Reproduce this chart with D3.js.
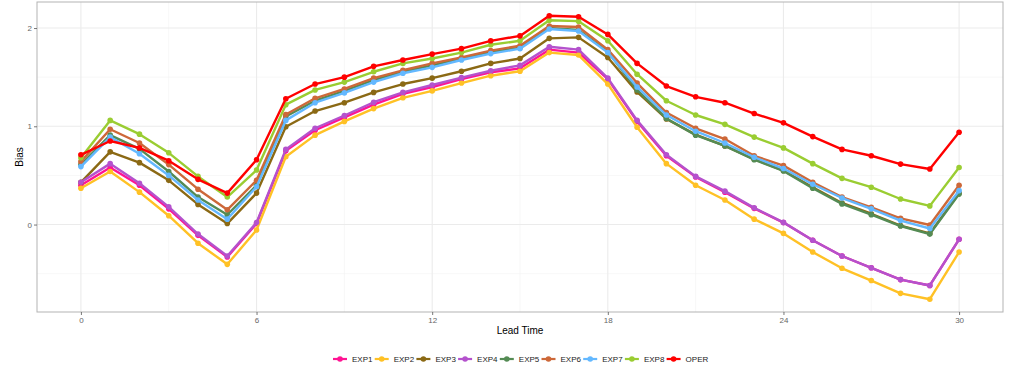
<!DOCTYPE html>
<html lang="en">
<head>
<meta charset="utf-8">
<script src="https://d3js.org/d3.v7.min.js"></script>
<style>
  body { margin: 0; background: #fff; }
  svg text { font-family: "Liberation Sans", Arial, sans-serif; }
</style>
</head>
<body>
<script>
// lead times 0..30
let leadTime = d3.range(0, 31);
let seriesNames = ["EXP1", "EXP2", "EXP3", "EXP4", "EXP5", "EXP6", "EXP7", "EXP8", "OPER"];
let seriesColors = ["#FF1493", "#FFC125", "#8B6914", "#B452CD", "#548B54", "#CD6839", "#63B8FF", "#9ACD32", "#FF0000"];

let exp1 = [0.40, 0.58, 0.40, 0.16, -0.11, -0.33, 0.01, 0.75, 0.96, 1.09, 1.22, 1.33, 1.40, 1.48, 1.55, 1.59, 1.78, 1.75, 1.48, 1.05, 0.70, 0.485, 0.33, 0.165, 0.02, -0.16, -0.32, -0.44, -0.56, -0.62, -0.15];
let exp2 = [0.37, 0.54, 0.33, 0.09, -0.19, -0.405, -0.056, 0.69, 0.91, 1.05, 1.18, 1.29, 1.36, 1.44, 1.515, 1.56, 1.75, 1.725, 1.43, 0.99, 0.62, 0.40, 0.25, 0.055, -0.09, -0.28, -0.445, -0.57, -0.70, -0.76, -0.28];
let exp3 = [0.43, 0.74, 0.63, 0.45, 0.205, 0.01, 0.32, 0.995, 1.155, 1.24, 1.345, 1.43, 1.49, 1.56, 1.64, 1.69, 1.895, 1.905, 1.70, 1.35, 1.075, 0.915, 0.80, 0.665, 0.55, 0.38, 0.22, 0.11, -0.01, -0.09, 0.32];
let exp4 = [0.43, 0.62, 0.42, 0.18, -0.097, -0.32, 0.02, 0.765, 0.98, 1.11, 1.245, 1.345, 1.42, 1.495, 1.565, 1.62, 1.81, 1.78, 1.49, 1.06, 0.71, 0.49, 0.34, 0.17, 0.022, -0.16, -0.32, -0.44, -0.56, -0.62, -0.15];
let exp5 = [0.61, 0.91, 0.77, 0.54, 0.28, 0.10, 0.40, 1.10, 1.26, 1.36, 1.47, 1.555, 1.62, 1.69, 1.755, 1.80, 2.00, 1.98, 1.76, 1.37, 1.08, 0.91, 0.80, 0.66, 0.545, 0.37, 0.21, 0.10, -0.015, -0.097, 0.31];
let exp6 = [0.64, 0.97, 0.83, 0.61, 0.36, 0.15, 0.45, 1.12, 1.285, 1.38, 1.49, 1.57, 1.64, 1.70, 1.77, 1.82, 2.02, 2.01, 1.78, 1.44, 1.14, 0.98, 0.87, 0.70, 0.60, 0.43, 0.28, 0.175, 0.063, -0.005, 0.40];
let exp7 = [0.59, 0.89, 0.72, 0.50, 0.25, 0.055, 0.385, 1.06, 1.24, 1.34, 1.45, 1.54, 1.60, 1.675, 1.74, 1.79, 1.99, 1.97, 1.75, 1.40, 1.115, 0.95, 0.83, 0.685, 0.57, 0.41, 0.27, 0.16, 0.04, -0.04, 0.345];
let exp8 = [0.68, 1.06, 0.92, 0.73, 0.49, 0.28, 0.555, 1.22, 1.37, 1.45, 1.555, 1.64, 1.69, 1.75, 1.83, 1.87, 2.08, 2.07, 1.87, 1.53, 1.26, 1.115, 1.02, 0.89, 0.78, 0.62, 0.47, 0.38, 0.26, 0.19, 0.58];
let oper = [0.71, 0.85, 0.78, 0.65, 0.46, 0.32, 0.66, 1.28, 1.43, 1.50, 1.61, 1.675, 1.735, 1.79, 1.87, 1.92, 2.125, 2.115, 1.935, 1.64, 1.41, 1.30, 1.24, 1.13, 1.035, 0.895, 0.765, 0.70, 0.615, 0.565, 0.94];

let xTicks = [0, 6, 12, 18, 24, 30];
let xMinor = [3, 9, 15, 21, 27];
let yTicks = [0, 1, 2];
let yMinor = [-0.5, 0.5, 1.5];

let allValues = [exp1, exp2, exp3, exp4, exp5, exp6, exp7, exp8, oper];
let series = seriesNames.map(function(name, i) {
    return { name: name, color: seriesColors[i], values: allValues[i].map(function(v, j) { return { x: leadTime[j], y: v }; }) };
});

var width = 1011, height = 367;
var panel = { left: 37, right: 1003, top: 2, bottom: 312 };

var svg = d3.select("body").append("svg")
    .attr("width", width)
    .attr("height", height);

var x = d3.scaleLinear().domain([-1.5, 31.5]).range([panel.left, panel.right]);
var y = d3.scaleLinear().domain([-0.89, 2.265]).range([panel.bottom, panel.top]);

// grid
var grid = svg.append("g");
grid.selectAll(".xminor").data(xMinor).enter().append("line")
    .attr("x1", d => x(d)).attr("x2", d => x(d))
    .attr("y1", panel.top).attr("y2", panel.bottom)
    .attr("stroke", "#f2f2f2").attr("stroke-width", 0.6);
grid.selectAll(".yminor").data(yMinor).enter().append("line")
    .attr("y1", d => y(d)).attr("y2", d => y(d))
    .attr("x1", panel.left).attr("x2", panel.right)
    .attr("stroke", "#f2f2f2").attr("stroke-width", 0.6);
grid.selectAll(".xmajor").data(xTicks).enter().append("line")
    .attr("x1", d => x(d)).attr("x2", d => x(d))
    .attr("y1", panel.top).attr("y2", panel.bottom)
    .attr("stroke", "#ebebeb").attr("stroke-width", 1.1);
grid.selectAll(".ymajor").data(yTicks).enter().append("line")
    .attr("y1", d => y(d)).attr("y2", d => y(d))
    .attr("x1", panel.left).attr("x2", panel.right)
    .attr("stroke", "#ebebeb").attr("stroke-width", 1.1);

// lines + points
var line = d3.line().x(d => x(d.x)).y(d => y(d.y));
var g = svg.selectAll(".series").data(series).enter().append("g");
g.append("path")
    .attr("d", d => line(d.values))
    .attr("fill", "none")
    .attr("stroke", d => d.color)
    .attr("stroke-width", 2.4)
    .attr("stroke-linejoin", "round");
g.selectAll("circle").data(d => d.values.map(v => ({ x: v.x, y: v.y, color: d.color })))
    .enter().append("circle")
    .attr("cx", d => x(d.x)).attr("cy", d => y(d.y))
    .attr("r", 2.8)
    .attr("fill", d => d.color);

// panel border
svg.append("rect")
    .attr("x", panel.left).attr("y", panel.top)
    .attr("width", panel.right - panel.left).attr("height", panel.bottom - panel.top)
    .attr("fill", "none").attr("stroke", "#b3b3b3").attr("stroke-width", 1);

// axes
var xAxis = svg.append("g")
    .attr("transform", "translate(0," + panel.bottom + ")")
    .call(d3.axisBottom(x).tickValues(xTicks).tickFormat(d3.format("d")).tickSize(3).tickPadding(2));
var yAxis = svg.append("g")
    .attr("transform", "translate(" + panel.left + ",0)")
    .call(d3.axisLeft(y).tickValues(yTicks).tickFormat(d3.format("d")).tickSize(3).tickPadding(2));
[xAxis, yAxis].forEach(function(a) {
    a.select(".domain").remove();
    a.selectAll(".tick line").attr("stroke", "#555").attr("stroke-width", 0.8);
    a.selectAll(".tick text").attr("fill", "#666").style("font-size", "8px");
});

svg.append("text")
    .attr("x", (panel.left + panel.right) / 2).attr("y", 334)
    .attr("text-anchor", "middle")
    .style("font-size", "10px").attr("fill", "#000")
    .text("Lead Time");
svg.append("text")
    .attr("transform", "translate(23," + ((panel.top + panel.bottom) / 2) + ") rotate(-90)")
    .attr("text-anchor", "middle")
    .style("font-size", "10px").attr("fill", "#000")
    .text("Bias");

// legend
var legend = svg.append("g").attr("transform", "translate(333,359)");
var item = legend.selectAll("g").data(series).enter().append("g")
    .attr("transform", (d, i) => "translate(" + (i * 41.7) + ",0)");
item.append("line")
    .attr("x1", 0).attr("x2", 14).attr("y1", 0).attr("y2", 0)
    .attr("stroke", d => d.color).attr("stroke-width", 2.2);
item.append("circle")
    .attr("cx", 7).attr("cy", 0).attr("r", 2.8)
    .attr("fill", d => d.color);
item.append("text")
    .attr("x", 19).attr("y", 0).attr("dy", "0.35em")
    .style("font-size", "8px").attr("fill", "#222")
    .text(d => d.name);
</script>
</body>
</html>
